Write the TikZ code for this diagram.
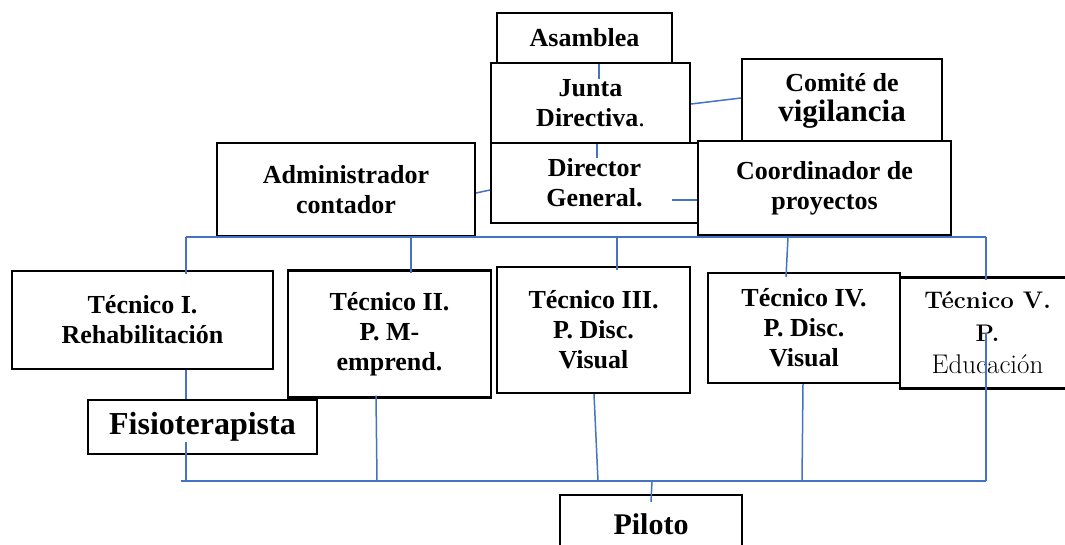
\documentclass[tikz,border=0pt]{standalone}
\usepackage{fontspec}
\setmainfont{Liberation Serif}
\definecolor{azul}{RGB}{68,114,196}

\begin{document}
\begin{tikzpicture}[x=1pt,y=-1pt,
  puesto/.style={draw,line width=2.1pt,fill=white,inner sep=0pt,align=center,
    font=\bfseries\fontsize{26}{30}\selectfont},
  linea/.style={azul,line width=1.5pt}]
\useasboundingbox (0,0) rectangle (1065,544);
\clip (0,0) rectangle (1065,544);

% cabeza
\node[puesto,minimum width=175pt,minimum height=50pt] (asamblea) at (584.5,38) {Asamblea};
\node[puesto,minimum width=199pt,minimum height=80pt] (junta) at (590.5,103) {Junta\\Directiva{\mdseries.}};
\node[puesto,minimum width=200pt,minimum height=84pt] (comite) at (842,101) {Comité de\\{\fontsize{31}{30}\selectfont vigilancia}};
\node[puesto,minimum width=207pt,minimum height=80pt] (director) at (594.5,183) {Director\\General.};
\node[puesto,minimum width=253pt,minimum height=94pt] (coord) at (824.5,188) {Coordinador de\\proyectos};
\node[puesto,minimum width=258pt,minimum height=93pt] (admin) at (346,189.5) {Administrador\\contador};

% tecnicos
\node[puesto,minimum width=261pt,minimum height=98pt] (tec1) at (142.5,320) {Técnico I.\\Rehabilitación};
\node[puesto,minimum width=203pt,minimum height=127pt] (tec2) at (389.5,334) {Técnico II.\\P. M-\\emprend.};
\node[puesto,minimum width=193pt,minimum height=126pt] (tec3) at (593.5,330) {Técnico III.\\P. Disc.\\Visual};
\node[puesto,minimum width=192pt,minimum height=110pt] (tec4) at (804,328) {Técnico IV.\\P. Disc.\\Visual};
\node[puesto,minimum width=175pt,minimum height=111pt,
  font=\fontfamily{lmr}\fontseries{bx}\selectfont\fontsize{24}{32.5}\selectfont] (tec5) at (987.5,333)
  {Técnico V.\\P.\\{\fontseries{m}\selectfont\fontsize{27}{32.5}\selectfont Educación}};

% abajo
\node[puesto,minimum width=229pt,minimum height=54pt,font=\bfseries\fontsize{32}{36}\selectfont] (fisio) at (202.5,427) {Fisioterapista};
\node[puesto,minimum width=182pt,minimum height=58pt,font=\bfseries\fontsize{30}{36}\selectfont] (piloto) at (651,524) {Piloto};

% enlaces de arriba
\draw[linea] ([xshift=14.5pt]asamblea.south) -- ++(0,15);
\draw[linea] ([yshift=-1pt]junta.east) -- ([yshift=3pt]comite.west);
\draw[linea] ([xshift=6.5pt]junta.south) -- ++(0,14);
\draw[linea] ([yshift=-12pt]coord.west) -- ++(-25,0);
\draw[linea] ([yshift=-3.5pt]admin.east) -- ([yshift=-7pt]director.west);

% barra de los tecnicos
\coordinate (barra1) at (186,237);
\coordinate (barra2) at (986,237);
\draw[linea] (barra1) -- (barra2);
\foreach \n/\x in {tec1/186,tec2/411,tec3/617,tec5/986}
  \draw[linea] (\x,237) -- ([yshift=-4pt]\x,237 |- \n.north);
\draw[linea] (788,237) -- ([yshift=-5pt]786,237 |- tec4.north);

% barra del piloto
\coordinate (barra3) at (181,481);
\coordinate (barra4) at (986,481);
\draw[linea] (barra3) -- (barra4);
\draw[linea] (186,0 |- tec1.south) -- (186,0 |- fisio.north);
\draw[linea] ([yshift=-15pt]186,0 |- fisio.center) -- (186,0 |- barra3);
\draw[linea] ([yshift=3pt]376,0 |- tec2.south) -- (377,0 |- barra3);
\draw[linea] (594,0 |- tec3.south) -- (598,0 |- barra3);
\draw[linea] (803,0 |- tec4.south) -- (802,0 |- barra3);
\draw[linea] (986,333) -- (barra4);
\draw[linea] (652,0 |- barra3) -- ([yshift=-8pt]651,0 |- piloto.north);
\end{tikzpicture}
\end{document}
